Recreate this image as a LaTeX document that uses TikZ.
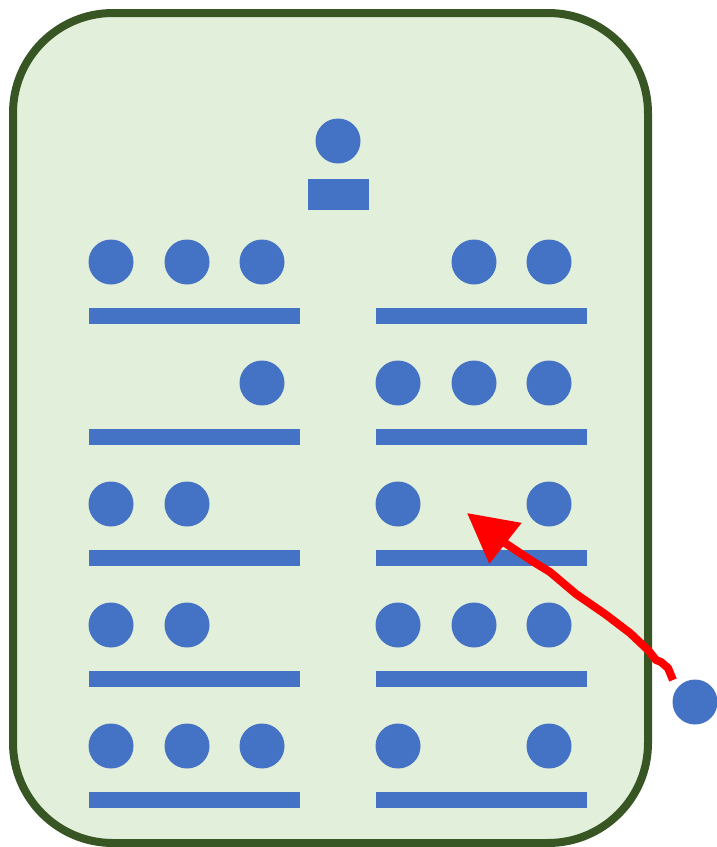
\documentclass[tikz,border=0pt]{standalone}
\usetikzlibrary{arrows.meta}
\definecolor{dotblue}{HTML}{4472C4}
\definecolor{panelfill}{HTML}{E2EFDA}
\definecolor{panelline}{HTML}{375623}
\tikzset{
  dot/.style={circle, fill=dotblue, draw=none, minimum size=45pt, inner sep=0pt},
  bar/.style={rectangle, fill=dotblue, draw=none, minimum width=211pt, minimum height=16pt, inner sep=0pt},
  panel/.style={draw=panelline, fill=panelfill, line width=8pt, rounded corners=100pt},
  movearrow/.style={draw=red, line width=8pt, line join=round, -{Triangle[length=49pt,width=50pt]}}
}
\begin{document}
\begin{tikzpicture}[x=1pt,y=-1pt]
\useasboundingbox (0,0) rectangle (716,847);
\draw[panel] (13,13) rectangle (648,843);
% top
\node[dot] (top) at (338,141) {};
\node[rectangle, fill=dotblue, minimum width=61pt, minimum height=31pt, inner sep=0pt] (topbar) at (338.5,194.5) {};
% row 1
\node[dot] (r1l1) at (111,262) {};
\node[dot] (r1l2) at (187,262) {};
\node[dot] (r1l3) at (262,262) {};
\node[dot] (r1r2) at (474,262) {};
\node[dot] (r1r3) at (549,262) {};
\node[bar] (b1l) at (194.5,316) {};
\node[bar] (b1r) at (481.5,316) {};
% row 2
\node[dot] (r2l3) at (262,383) {};
\node[dot] (r2r1) at (398,383) {};
\node[dot] (r2r2) at (474,383) {};
\node[dot] (r2r3) at (549,383) {};
\node[bar] (b2l) at (194.5,437) {};
\node[bar] (b2r) at (481.5,437) {};
% row 3
\node[dot] (r3l1) at (111,504) {};
\node[dot] (r3l2) at (187,504) {};
\node[dot] (r3r1) at (398,504) {};
\node[dot] (r3r3) at (549,504) {};
\node[bar] (b3l) at (194.5,558) {};
\node[bar] (b3r) at (481.5,558) {};
% row 4
\node[dot] (r4l1) at (111,625) {};
\node[dot] (r4l2) at (187,625) {};
\node[dot] (r4r1) at (398,625) {};
\node[dot] (r4r2) at (474,625) {};
\node[dot] (r4r3) at (549,625) {};
\node[bar] (b4l) at (194.5,679) {};
\node[bar] (b4r) at (481.5,679) {};
% row 5
\node[dot] (r5l1) at (111,746) {};
\node[dot] (r5l2) at (187,746) {};
\node[dot] (r5l3) at (262,746) {};
\node[dot] (r5r1) at (398,746) {};
\node[dot] (r5r3) at (549,746) {};
\node[bar] (b5l) at (194.5,800) {};
\node[bar] (b5r) at (481.5,800) {};
% outside
\node[dot] (out) at (695,702) {};
% arrow
\coordinate (astart) at (673,680);
\coordinate (aend) at (467,513);
\draw[movearrow] (astart) -- (668,668) -- (661,662) -- (656,660) -- (648,650)
  -- (630,633) -- (605,614) -- (576,594) -- (550,572) -- (532,561) -- (505,543) -- (aend);
\end{tikzpicture}
\end{document}
